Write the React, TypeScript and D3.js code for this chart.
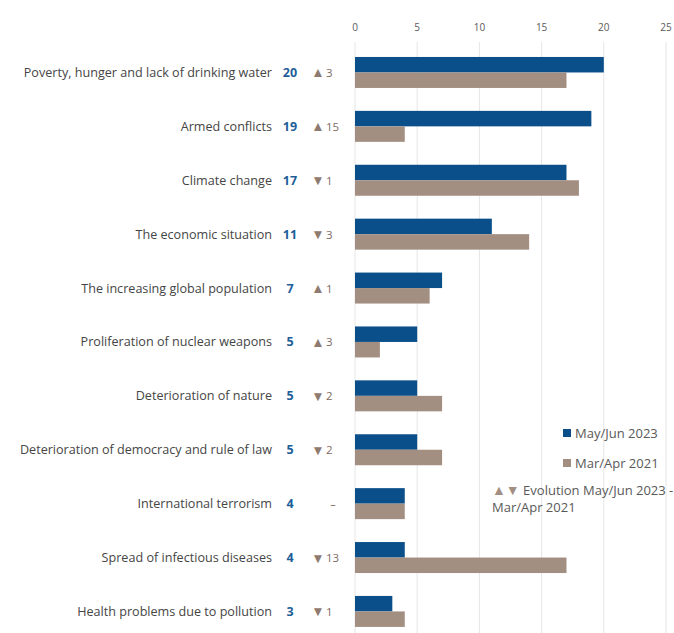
import React from "react";
import * as d3 from "d3";

const categories = [
  "Poverty, hunger and lack of drinking water",
  "Armed conflicts",
  "Climate change",
  "The economic situation",
  "The increasing global population",
  "Proliferation of nuclear weapons",
  "Deterioration of nature",
  "Deterioration of democracy and rule of law",
  "International terrorism",
  "Spread of infectious diseases",
  "Health problems due to pollution",
];
const may2023 = [20, 19, 17, 11, 7, 5, 5, 5, 4, 4, 3];
const mar2021 = [17, 4, 18, 14, 6, 2, 7, 7, 4, 17, 4];
const evolutionDir = ["up", "up", "down", "down", "up", "up", "down", "down", "none", "down", "down"];
const evolutionVal = ["3", "15", "1", "3", "1", "3", "2", "2", "–", "13", "1"];
const ticks = [0, 5, 10, 15, 20, 25];

const W = 674;
const H = 633;
const BLUE = "#0b4f8a";
const BROWN = "#a38e82";
const FONT = "'Open Sans', 'Noto Sans', sans-serif";

export default function App() {
  const x = d3.scaleLinear().domain([0, 25]).range([355, 666]);
  const y = d3.scaleBand().domain(categories).range([40.8, 643.1]).paddingInner(0.425).paddingOuter(0.3);
  const bh = y.bandwidth() / 2;
  return (
    <svg width={W} height={H} style={{ position: "absolute", left: 0, top: 0, background: "#fff" }} fontFamily={FONT}>
      {ticks.map((t) => (
        <g key={t}>
          <line x1={x(t)} x2={x(t)} y1={42} y2={H} stroke="#e6e6e6" strokeWidth={1} />
          <text x={x(t)} y={31} textAnchor="middle" fontSize={10} fill="#595959">{t}</text>
        </g>
      ))}
      {categories.map((c, i) => {
        const y0 = y(c)!;
        const cy = y0 + bh;
        const dir = evolutionDir[i];
        return (
          <g key={c}>
            <rect x={x(0)} y={y0} width={x(may2023[i]) - x(0)} height={bh} fill={BLUE} />
            <rect x={x(0)} y={y0 + bh} width={x(mar2021[i]) - x(0)} height={bh} fill={BROWN} />
            <text x={272} y={cy + 4.5} textAnchor="end" fontSize={12.6} fill="#454545">{c}</text>
            <text x={290} y={cy + 4.5} textAnchor="middle" fontSize={12.5} fontWeight="bold" fill="#1f5f99">{may2023[i]}</text>
            {dir === "none" ? (
              <text x={333} y={cy + 4} textAnchor="middle" fontSize={11} fill="#7f6a5f">–</text>
            ) : (
              <>
                <text x={318} y={cy + 5} textAnchor="middle" fontSize={13.5} fill="#8f7a6f">{dir === "up" ? "▲" : "▼"}</text>
                <text x={326} y={cy + 4.5} textAnchor="start" fontSize={11.5} fill="#7f6a5f">{evolutionVal[i]}</text>
              </>
            )}
          </g>
        );
      })}
      <rect x={563} y={429} width={8} height={8} fill={BLUE} />
      <text x={575} y={438} fontSize={13} fill="#595959">May/Jun 2023</text>
      <rect x={563} y={459} width={8} height={8} fill={BROWN} />
      <text x={575} y={468} fontSize={13} fill="#595959">Mar/Apr 2021</text>
      <text x={492} y={495} fontSize={13} fill="#595959">
        <tspan fill="#a38e82" fontSize={14}>▲▼</tspan> Evolution May/Jun 2023 -
      </text>
      <text x={492} y={512} fontSize={13} fill="#595959">Mar/Apr 2021</text>
    </svg>
  );
}
